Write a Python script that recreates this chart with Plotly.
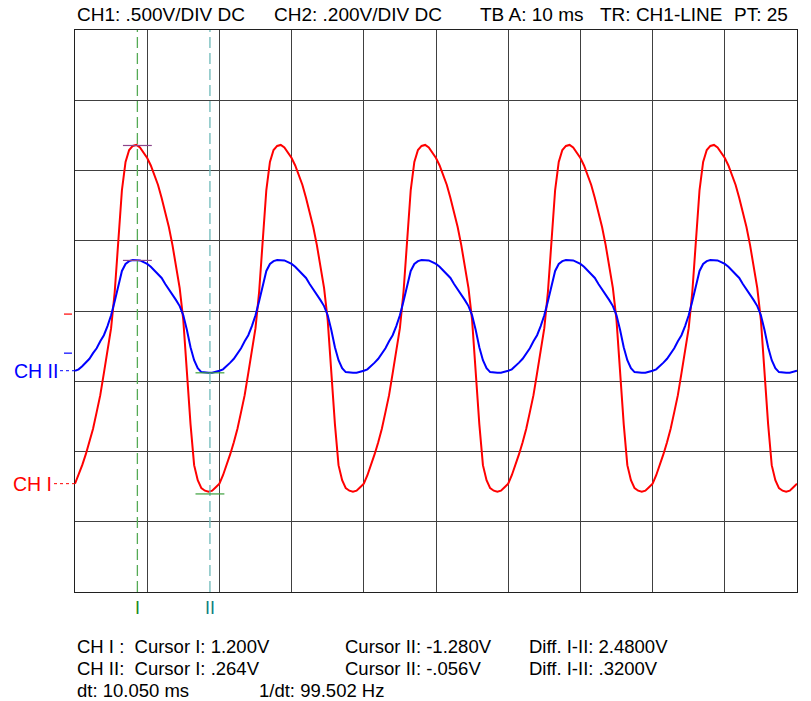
import plotly.graph_objects as go

# ---------------- data ----------------
time_ms = [i * 0.5 for i in range(201)]  # sample times 0 .. 100 ms

ch1_volts = [
    -1.207, -1.147, -1.075, -0.997, -0.912, -0.816, -0.698, -0.577, -0.420, -0.271,
    -0.100, 0.157, 0.527, 0.883, 1.083, 1.168, 1.197,
    1.204, 1.186, 1.150, 1.111, 1.058, 0.994, 0.919, 0.826, 0.726, 0.620,
    0.491, 0.342, 0.185, -0.043, -0.420, -0.783, -1.075, -1.182, -1.239, -1.257,
    -1.264, -1.257, -1.232, -1.207, -1.147, -1.075, -0.997, -0.912, -0.816, -0.698,
    -0.577, -0.420, -0.271, -0.100, 0.157, 0.527, 0.883, 1.083, 1.168, 1.197,
    1.204, 1.186, 1.150, 1.111, 1.058, 0.994, 0.919, 0.826, 0.726, 0.620,
    0.491, 0.342, 0.185, -0.043, -0.420, -0.783, -1.075, -1.182, -1.239, -1.257,
    -1.264, -1.257, -1.232, -1.207, -1.147, -1.075, -0.997, -0.912, -0.816, -0.698,
    -0.577, -0.420, -0.271, -0.100, 0.157, 0.527, 0.883, 1.083, 1.168, 1.197,
    1.204, 1.186, 1.150, 1.111, 1.058, 0.994, 0.919, 0.826, 0.726, 0.620,
    0.491, 0.342, 0.185, -0.043, -0.420, -0.783, -1.075, -1.182, -1.239, -1.257,
    -1.264, -1.257, -1.232, -1.207, -1.147, -1.075, -0.997, -0.912, -0.816, -0.698,
    -0.577, -0.420, -0.271, -0.100, 0.157, 0.527, 0.883, 1.083, 1.168, 1.197,
    1.204, 1.186, 1.150, 1.111, 1.058, 0.994, 0.919, 0.826, 0.726, 0.620,
    0.491, 0.342, 0.185, -0.043, -0.420, -0.783, -1.075, -1.182, -1.239, -1.257,
    -1.264, -1.257, -1.232, -1.207, -1.147, -1.075, -0.997, -0.912, -0.816, -0.698,
    -0.577, -0.420, -0.271, -0.100, 0.157, 0.527, 0.883, 1.083, 1.168, 1.197,
    1.204, 1.186, 1.150, 1.111, 1.058, 0.994, 0.919, 0.826, 0.726, 0.620,
    0.491, 0.342, 0.185, -0.043, -0.420, -0.783, -1.075, -1.182, -1.239, -1.257,
    -1.264, -1.257, -1.232, -1.207,
]

ch2_volts = [
    -0.050, -0.046, -0.037, -0.027, -0.016, 0.000, 0.014, 0.034, 0.051, 0.077,
    0.108, 0.148, 0.194, 0.234, 0.254, 0.262, 0.265,
    0.265, 0.264, 0.259, 0.254, 0.246, 0.236, 0.225, 0.214, 0.197, 0.182,
    0.168, 0.151, 0.134, 0.108, 0.066, 0.017, -0.020, -0.043, -0.054, -0.056,
    -0.056, -0.056, -0.054, -0.050, -0.046, -0.037, -0.027, -0.016, 0.000, 0.014,
    0.034, 0.051, 0.077, 0.108, 0.148, 0.194, 0.234, 0.254, 0.262, 0.265,
    0.265, 0.264, 0.259, 0.254, 0.246, 0.236, 0.225, 0.214, 0.197, 0.182,
    0.168, 0.151, 0.134, 0.108, 0.066, 0.017, -0.020, -0.043, -0.054, -0.056,
    -0.056, -0.056, -0.054, -0.050, -0.046, -0.037, -0.027, -0.016, 0.000, 0.014,
    0.034, 0.051, 0.077, 0.108, 0.148, 0.194, 0.234, 0.254, 0.262, 0.265,
    0.265, 0.264, 0.259, 0.254, 0.246, 0.236, 0.225, 0.214, 0.197, 0.182,
    0.168, 0.151, 0.134, 0.108, 0.066, 0.017, -0.020, -0.043, -0.054, -0.056,
    -0.056, -0.056, -0.054, -0.050, -0.046, -0.037, -0.027, -0.016, 0.000, 0.014,
    0.034, 0.051, 0.077, 0.108, 0.148, 0.194, 0.234, 0.254, 0.262, 0.265,
    0.265, 0.264, 0.259, 0.254, 0.246, 0.236, 0.225, 0.214, 0.197, 0.182,
    0.168, 0.151, 0.134, 0.108, 0.066, 0.017, -0.020, -0.043, -0.054, -0.056,
    -0.056, -0.056, -0.054, -0.050, -0.046, -0.037, -0.027, -0.016, 0.000, 0.014,
    0.034, 0.051, 0.077, 0.108, 0.148, 0.194, 0.234, 0.254, 0.262, 0.265,
    0.265, 0.264, 0.259, 0.254, 0.246, 0.236, 0.225, 0.214, 0.197, 0.182,
    0.168, 0.151, 0.134, 0.108, 0.066, 0.017, -0.020, -0.043, -0.054, -0.056,
    -0.056, -0.056, -0.054, -0.050,
]

CH1_V_PER_DIV = 0.5
CH2_V_PER_DIV = 0.2
ch1_ref_div = 3.956   # screen division of CH1 0 V reference
ch2_ref_div = 3.400   # screen division of CH2 0 V reference
cursor_times_ms = [8.64, 18.69]
ch1_cursor_volts = [1.200, -1.280]
ch2_cursor_volts = [0.264, -0.056]

header_texts = ["CH1: .500V/DIV DC", "CH2: .200V/DIV DC", "TB A: 10 ms",
                "TR: CH1-LINE", "PT: 25"]
readout_lines = [
    ["CH I :  Cursor I: 1.200V", "Cursor II: -1.280V", "Diff. I-II: 2.4800V"],
    ["CH II:  Cursor I: .264V", "Cursor II: -.056V", "Diff. I-II: .3200V"],
    ["dt: 10.050 ms", "1/dt: 99.502 Hz"],
]

# ---------------- figure ----------------
W, H = 811, 701
L, R, T, B = 75, 14, 30, 109
PW, PH = W - L - R, H - T - B


def pxx(x):
    return (x - L) / PW


def pxy(y):
    return (H - B - y) / PH


ch1_div = [v / CH1_V_PER_DIV + ch1_ref_div for v in ch1_volts]
ch2_div = [v / CH2_V_PER_DIV + ch2_ref_div for v in ch2_volts]

fig = go.Figure()
fig.add_trace(go.Scatter(x=time_ms, y=ch1_div, mode="lines",
                         line=dict(color="#ff0000", width=2), showlegend=False))
fig.add_trace(go.Scatter(x=time_ms, y=ch2_div, mode="lines",
                         line=dict(color="#0000ff", width=2), showlegend=False))

shapes = []
cur_cols = ["rgb(85,170,85)", "rgb(110,185,185)"]
for tc, col in zip(cursor_times_ms, cur_cols):
    shapes.append(dict(type="line", xref="x", yref="y", x0=tc, x1=tc, y0=0, y1=8,
                       line=dict(color=col, width=1.3, dash="11px,5px"), layer="above"))

# horizontal cursor markers
mark_cols = ["rgb(140,70,140)", "rgb(60,160,60)"]
for tc, v1, v2, col in zip(cursor_times_ms, ch1_cursor_volts, ch2_cursor_volts, mark_cols):
    for yy in (v1 / CH1_V_PER_DIV + ch1_ref_div, v2 / CH2_V_PER_DIV + ch2_ref_div):
        shapes.append(dict(type="line", xref="x", yref="y", x0=tc - 2.0, x1=tc + 2.0,
                           y0=yy, y1=yy, line=dict(color=col, width=1.2), layer="above"))

# reference ticks on the left
for yy, col in ((ch1_ref_div, "#ff0000"), (ch2_ref_div, "#0000ff")):
    shapes.append(dict(type="line", xref="paper", yref="y", x0=pxx(64), x1=pxx(72),
                       y0=yy, y1=yy, line=dict(color=col, width=1.2)))

# dotted leader lines for channel labels
ch1_start = ch1_div[0]
ch2_start = ch2_div[0]
shapes.append(dict(type="line", xref="paper", yref="y", x0=pxx(54), x1=pxx(75),
                   y0=ch1_start, y1=ch1_start, line=dict(color="#ff0000", width=1, dash="dot")))
shapes.append(dict(type="line", xref="paper", yref="y", x0=pxx(60), x1=pxx(75),
                   y0=ch2_start, y1=ch2_start, line=dict(color="#0000ff", width=1, dash="dot")))

ann = []
FONT = "Liberation Sans, Arial, sans-serif"
head_x = [75, 272, 478, 598, 732]
for txt, hx in zip(header_texts, head_x):
    ann.append(dict(text=txt, x=pxx(hx), y=pxy(15), xref="paper", yref="paper",
                    xanchor="left", yanchor="middle", showarrow=False,
                    font=dict(family=FONT, size=19, color="#000")))

ann.append(dict(text="CH II", x=pxx(60), y=ch2_start, xref="paper", yref="y",
                xanchor="right", yanchor="middle", showarrow=False,
                font=dict(family=FONT, size=19.5, color="#0000ff")))
ann.append(dict(text="CH I", x=pxx(54), y=ch1_start, xref="paper", yref="y",
                xanchor="right", yanchor="middle", showarrow=False,
                font=dict(family=FONT, size=19.5, color="#ff0000")))

for tc, lab, col in zip(cursor_times_ms, ["I", "II"], ["#1a8a1a", "#108080"]):
    ann.append(dict(text=lab, x=tc, y=pxy(608), xref="x", yref="paper",
                    xanchor="center", yanchor="middle", showarrow=False,
                    font=dict(family=FONT, size=18, color=col)))

col_x = [[75, 343, 527], [75, 343, 527], [75, 257]]
row_y = [646, 668, 690]
for line, xs, yy in zip(readout_lines, col_x, row_y):
    for txt, xx in zip(line, xs):
        ann.append(dict(text=txt, x=pxx(xx), y=pxy(yy), xref="paper", yref="paper",
                        xanchor="left", yanchor="middle", showarrow=False,
                        font=dict(family=FONT, size=18.5, color="#000")))

axis_common = dict(showgrid=True, gridcolor="#404040", gridwidth=1,
                   showticklabels=False, ticks="", zeroline=False,
                   showline=True, linecolor="#202020", linewidth=1.3, mirror=True,
                   fixedrange=True)

fig.update_layout(
    width=W, height=H,
    margin=dict(l=L, r=R, t=T, b=B, pad=0),
    paper_bgcolor="white", plot_bgcolor="white",
    xaxis=dict(range=[0, 100], dtick=10, tick0=0, **axis_common),
    yaxis=dict(range=[0, 8], dtick=1, tick0=0, **axis_common),
    shapes=shapes, annotations=ann, showlegend=False,
)

fig.write_html("out.html")
